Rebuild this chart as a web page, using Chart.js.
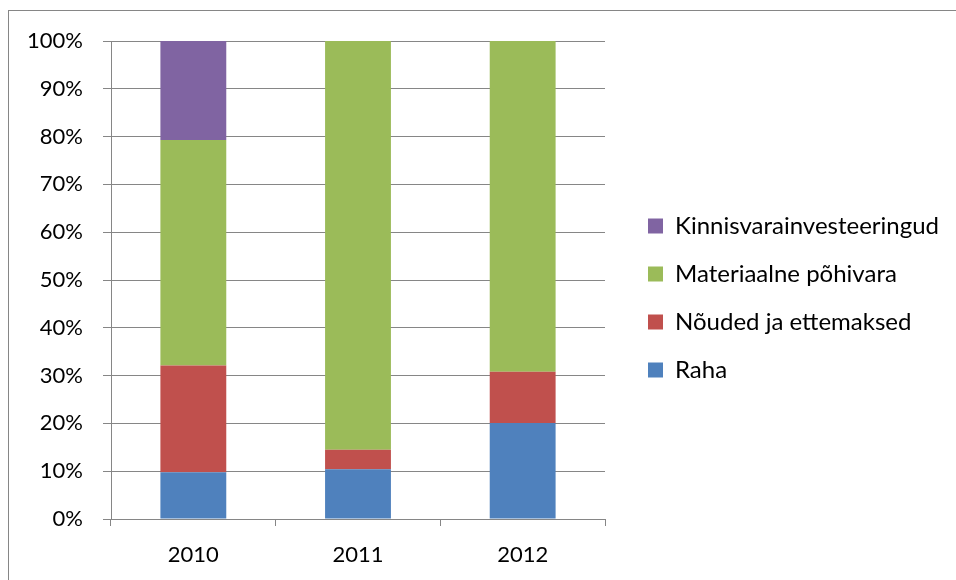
<!DOCTYPE html>
<html>
<head>
<meta charset="utf-8">
<script src="https://cdn.jsdelivr.net/npm/chart.js@4/dist/chart.umd.min.js"></script>
<style>
    body { margin: 0; background: #fff; overflow: hidden; }
    #frame { position: absolute; left: 8px; top: 10px; width: 970px; height: 600px; border: 1px solid #868686; }
    #frame canvas { position: absolute; left: 0; top: 0; }
</style>
</head>
<body>
<div id="frame"><canvas id="assetChart" width="947" height="569"></canvas></div>
<script>
const years = ["2010", "2011", "2012"];
const raha = [9.8, 10.4, 20.1];
const noudedJaEttemaksed = [22.3, 4.1, 10.7];
const materiaalnePohivara = [47.2, 85.5, 69.2];
const kinnisvarainvesteeringud = [20.7, 0, 0];

const seriesNames = ["Raha", "Nõuded ja ettemaksed", "Materiaalne põhivara", "Kinnisvarainvesteeringud"];
const seriesColors = ["#4F81BD", "#C0504D", "#9BBB59", "#8064A2"];
const percentTicks = [0, 10, 20, 30, 40, 50, 60, 70, 80, 90, 100];

const fontFamily = "Lato, 'Open Sans', sans-serif";
const tickSize = 22;
const legendSize = 24;
const gridColor = "#868686";

// legend sits right of the plot; work out how wide its longest label is
const measure = document.createElement("canvas").getContext("2d");
measure.font = legendSize + "px " + fontFamily;
const textW = Math.max(...seriesNames.map(n => measure.measureText(n).width));
const legendWidth = 351;
const padRight = Math.max(0, 271 - textW);

const values = [raha, noudedJaEttemaksed, materiaalnePohivara, kinnisvarainvesteeringud];

const ctx = document.getElementById("assetChart").getContext("2d");
new Chart(ctx, {
    type: "bar",
    data: {
        labels: years,
        datasets: seriesNames.map((name, i) => ({
            label: name,
            data: values[i],
            backgroundColor: seriesColors[i],
            borderWidth: 0,
            categoryPercentage: 1,
            barPercentage: 0.4
        }))
    },
    options: {
        responsive: false,
        animation: false,
        layout: { padding: { top: 30, left: 0, right: padRight, bottom: 0 } },
        plugins: {
            tooltip: { enabled: false },
            legend: {
                position: "right",
                fullSize: false,
                reverse: true,
                maxWidth: legendWidth,
                // blank title only nudges the items down a little
                title: { display: true, text: " ", padding: 0, font: { size: 10, lineHeight: "17px" } },
                labels: {
                    boxWidth: 15,
                    boxHeight: 15,
                    padding: 43,
                    color: "#000",
                    font: { family: fontFamily, size: legendSize, lineHeight: "5px" },
                    generateLabels: c =>
                        Chart.defaults.plugins.legend.labels.generateLabels(c)
                            .map(item => ({ ...item, text: [item.text] }))
                }
            }
        },
        scales: {
            x: {
                stacked: true,
                afterFit: scale => { scale.height = 61; },
                grid: { drawOnChartArea: false, color: gridColor, tickLength: 7 },
                border: { color: gridColor },
                ticks: { color: "#000", padding: 16, font: { family: fontFamily, size: tickSize } }
            },
            y: {
                stacked: true,
                min: 0,
                max: 100,
                afterFit: scale => { scale.width = 102; },
                afterBuildTicks: scale => { scale.ticks = percentTicks.map(v => ({ value: v })); },
                grid: { color: gridColor, tickLength: 8 },
                border: { color: gridColor },
                ticks: {
                    color: "#000",
                    padding: 20,
                    font: { family: fontFamily, size: tickSize, lineHeight: 0.8 },
                    callback: v => v + "%"
                }
            }
        }
    }
});
</script>
</body>
</html>
